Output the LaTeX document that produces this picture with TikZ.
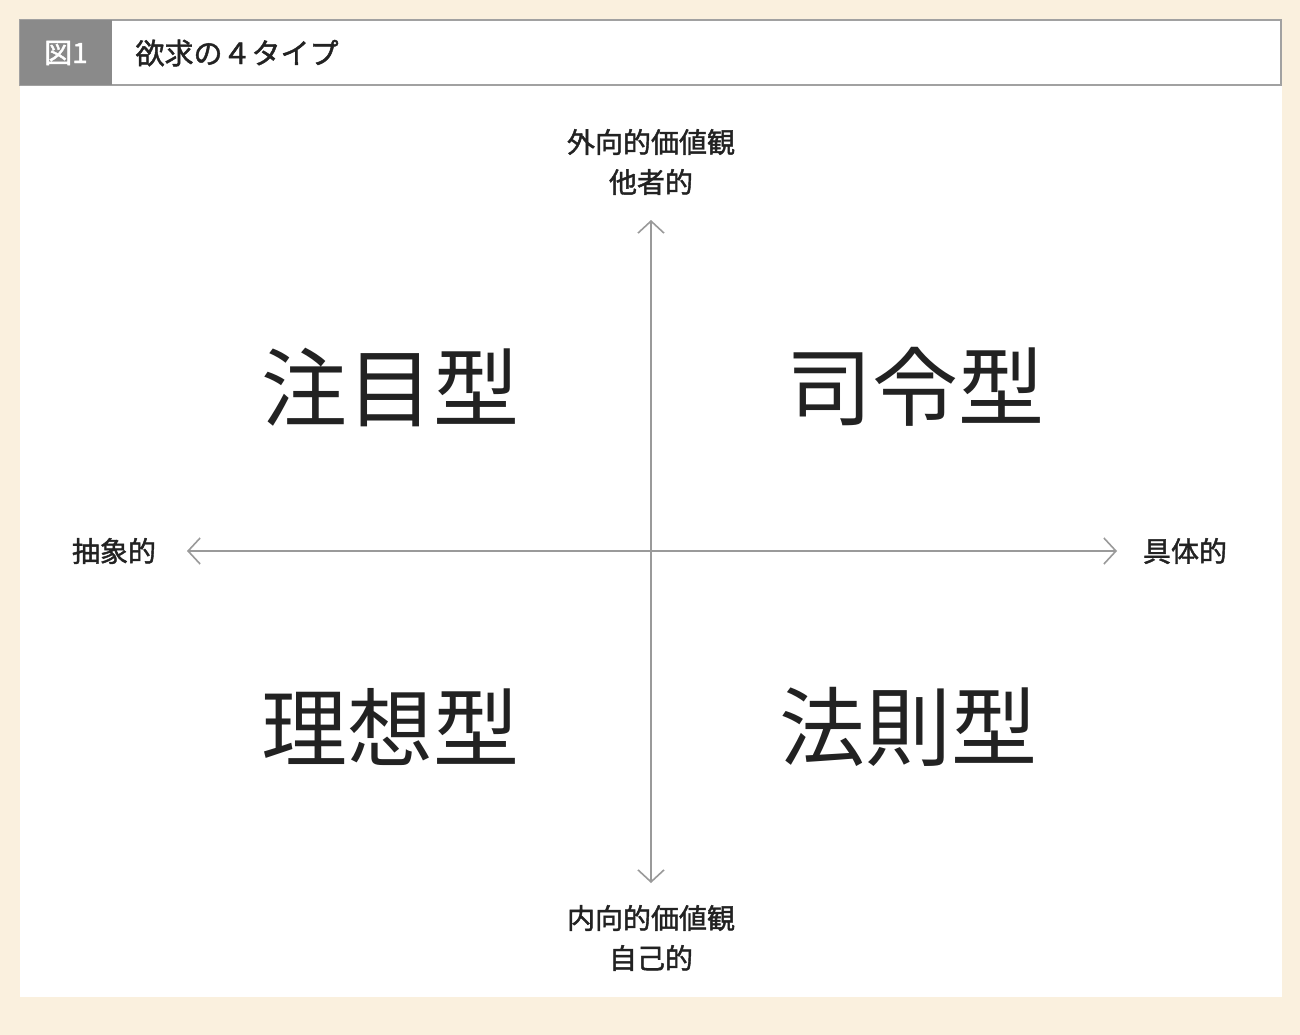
\documentclass[tikz,border=0pt]{standalone}
\usepackage{fontspec}
\newfontfamily\jp{Noto Sans CJK JP}
\newfontfamily\jpb{Noto Sans CJK JP}[FakeBold=1.5]
\definecolor{bg}{HTML}{FAF0DE}
\definecolor{axis}{HTML}{9A9A9A}
\definecolor{hdr}{HTML}{8A8A8A}
\definecolor{txt}{HTML}{222222}
\begin{document}
\begin{tikzpicture}[x=1pt,y=-1pt,
  big/.style={font=\jp\fontsize{86}{90}\selectfont, text=txt, inner sep=0},
  lab/.style={font=\jpb\fontsize{28}{40}\selectfont, text=txt, align=center, inner sep=0},
  ax/.style={draw=axis, line width=1.6pt, -{Straight Barb[length=12pt,width=26pt]}}]
\usetikzlibrary{arrows.meta}
\fill[bg] (0,0) rectangle (1300,1035);
\useasboundingbox (0,0) rectangle (1300,1035);
\fill[white] (20,20) rectangle (1282,997);
\draw[hdr!80, line width=1.5pt] (20,20) rectangle (1281,85);
\fill[hdr] (20,20) rectangle (112,85);
\node[font=\jpb\fontsize{28}{30}\selectfont, text=white] (fig) at (66,53) {図1};
\node[font=\jpb\fontsize{29}{30}\selectfont, text=txt, anchor=west] (title) at (132,53) {欲求の４タイプ};
\coordinate (c) at (651,551);
\coordinate (t) at (651,220);
\coordinate (b) at (651,883);
\coordinate (l) at (187,551);
\coordinate (r) at (1117,551);
\draw[ax] (c) -- (t);
\draw[ax] (c) -- (b);
\draw[ax] (c) -- (l);
\draw[ax] (c) -- (r);
\node[lab] (top) at (651,162) {外向的価値観\\他者的};
\node[lab] (bot) at (651,938) {内向的価値観\\自己的};
\node[lab] (left) at (114,551) {抽象的};
\node[lab] (right) at (1185,551) {具体的};
\node[big] (q1) at (390,387) {注目型};
\node[big] (q2) at (915,387) {司令型};
\node[big] (q3) at (390,727) {理想型};
\node[big] (q4) at (908,727) {法則型};
\end{tikzpicture}
\end{document}
